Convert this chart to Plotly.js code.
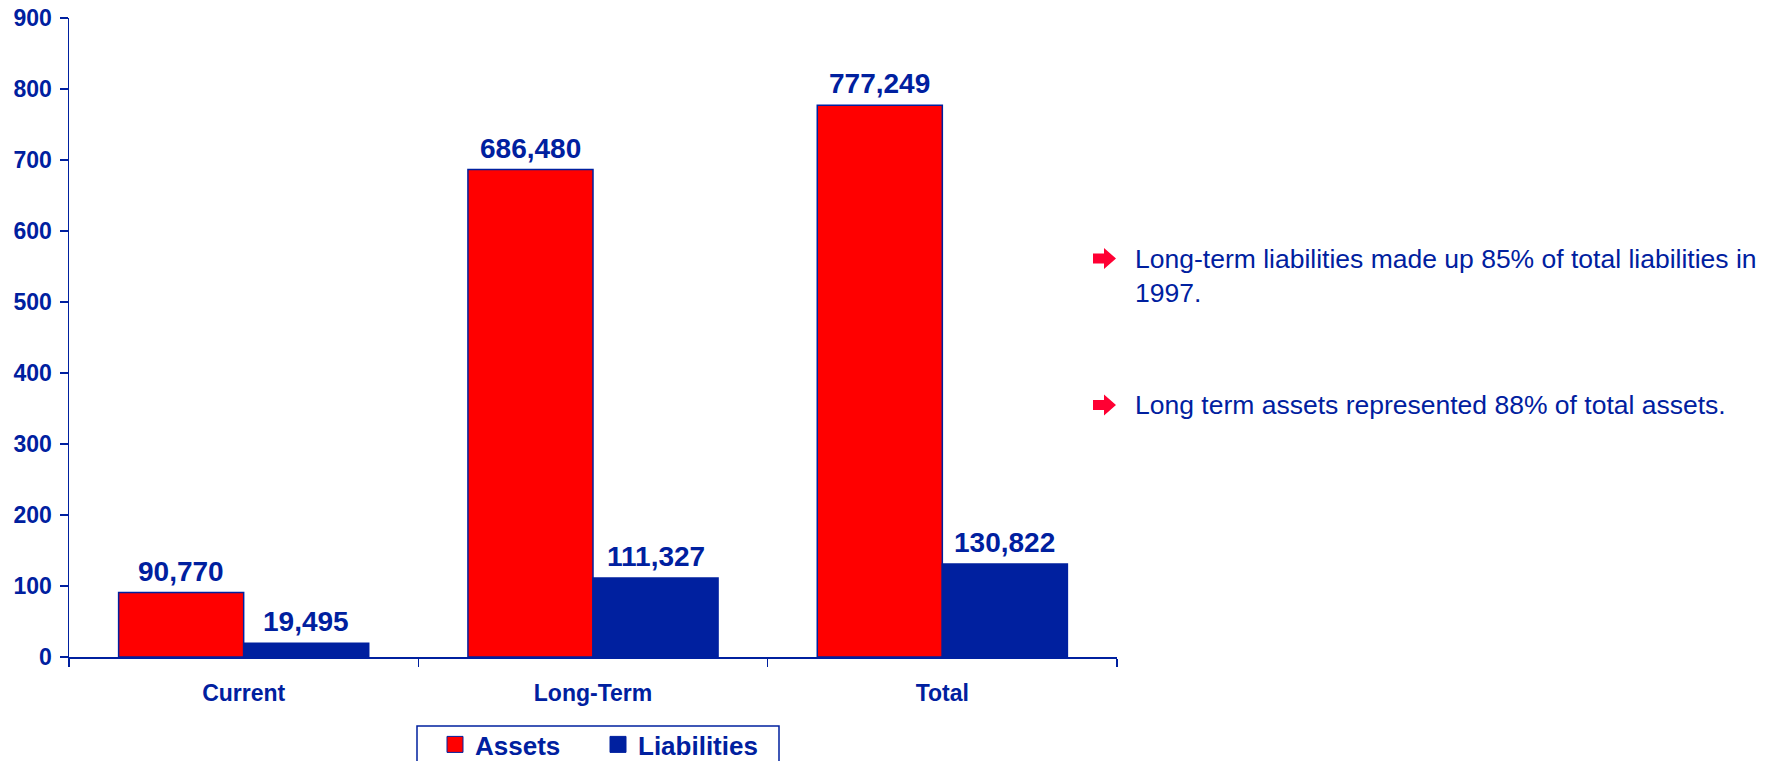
<!DOCTYPE html>
<html>
<head>
<meta charset="utf-8">
<script src="https://cdn.plot.ly/plotly-3.0.1.min.js"></script>
<style>html,body{margin:0;padding:0;background:#fff;}#chart{width:1772px;height:761px;}</style>
</head>
<body>
<div id="chart"></div>
<script>
const categories = ["Current", "Long-Term", "Total"];
const assets = [90.770, 686.480, 777.249];
const liabilities = [19.495, 111.327, 130.822];
const assetLabels = ["90,770", "686,480", "777,249"];
const liabilityLabels = ["19,495", "111,327", "130,822"];
const yTicks = [0, 100, 200, 300, 400, 500, 600, 700, 800, 900];
const seriesNames = ["Assets", "Liabilities"];
const bullets = [
  "Long-term liabilities made up 85% of total liabilities in<br>1997.",
  "Long term assets represented 88% of total assets."
];

const BLUE = "#00209F";
const RED = "#FF0000";
const ARROW_RED = "#FF0033";
const FONT = "Liberation Sans, Arial, sans-serif";

const traces = [
  {type: "bar", name: seriesNames[0], x: categories, y: assets, showlegend: false,
   marker: {color: RED, line: {color: BLUE, width: 1.5}}},
  {type: "bar", name: seriesNames[1], x: categories, y: liabilities, showlegend: false,
   marker: {color: BLUE, line: {color: BLUE, width: 1.5}}},
  {type: "scatter", mode: "markers", name: seriesNames[0], x: [null], y: [null], showlegend: true,
   marker: {symbol: "square", size: 16, color: RED, line: {color: BLUE, width: 1}}},
  {type: "scatter", mode: "markers", name: seriesNames[1], x: [null], y: [null], showlegend: true,
   marker: {symbol: "square", size: 16, color: BLUE, line: {color: BLUE, width: 1}}}
];

const W = 1772, H = 761, ml = 69, mr = 655, mt = 18, mb = 104;
const plotW = W - ml - mr, plotH = H - mt - mb;
const px2x = p => (p - ml) / plotW;
const px2y = p => 1 - (p - mt) / plotH;
const catPx = plotW / categories.length;
const bargap = 0.284;
const barPx = catPx * (1 - bargap) / 2;

const annotations = [];
categories.forEach((c, i) => {
  annotations.push({x: c, y: assets[i], xref: "x", yref: "y", text: "<b>" + assetLabels[i] + "</b>",
    showarrow: false, xshift: -barPx / 2, yanchor: "bottom", yshift: 4,
    font: {family: FONT, size: 28, color: BLUE}});
  annotations.push({x: c, y: liabilities[i], xref: "x", yref: "y", text: "<b>" + liabilityLabels[i] + "</b>",
    showarrow: false, xshift: barPx / 2, yanchor: "bottom", yshift: 4,
    font: {family: FONT, size: 28, color: BLUE}});
});

const bulletY = [258.5, 405];
const shapes = [];
bullets.forEach((t, i) => {
  shapes.push({type: "path", xref: "paper", yref: "paper", xsizemode: "pixel", ysizemode: "pixel",
    xanchor: px2x(1093), yanchor: px2y(bulletY[i]),
    path: "M0,-5 L11,-5 L11,-10.5 L23,0 L11,10.5 L11,5 L0,5 Z",
    fillcolor: ARROW_RED, line: {width: 0}});
  annotations.push({xref: "paper", yref: "paper", x: px2x(1133), y: px2y(bulletY[i] - 17),
    xanchor: "left", yanchor: "top", align: "left", text: t, showarrow: false,
    font: {family: FONT, size: 26.5, color: BLUE}});
});

// legend frame
shapes.push({type: "rect", xref: "paper", yref: "paper",
  x0: px2x(417), x1: px2x(779), y0: px2y(726), y1: px2y(790),
  line: {color: BLUE, width: 1.5}, fillcolor: "rgba(0,0,0,0)"});

const layout = {
  width: W, height: H,
  margin: {l: ml, r: mr, t: mt, b: mb},
  paper_bgcolor: "#fff", plot_bgcolor: "#fff",
  barmode: "group", bargap: bargap, bargroupgap: 0,
  showlegend: true,
  legend: {orientation: "h", xref: "container", yref: "container", x: 435 / W, y: (H - 721) / H,
    xanchor: "left", yanchor: "top", borderwidth: 0, bgcolor: "rgba(0,0,0,0)",
    font: {family: FONT, size: 26, color: BLUE, weight: "bold"}, entrywidth: 118},
  xaxis: {showline: true, linecolor: BLUE, linewidth: 1.5, ticks: "outside", tickson: "boundaries",
    ticklen: 8, tickcolor: BLUE, tickwidth: 1.5, ticklabelstandoff: 15,
    tickfont: {family: FONT, size: 23, color: BLUE, weight: "bold"}, showgrid: false, zeroline: false, fixedrange: true},
  yaxis: {range: [0, 900], tickvals: yTicks, ticktext: yTicks.map(String), showline: true, linecolor: BLUE, linewidth: 1.5,
    ticks: "outside", ticklen: 8, tickcolor: BLUE, tickwidth: 1.5, ticklabelstandoff: 3,
    tickfont: {family: FONT, size: 23, color: BLUE, weight: "bold"}, showgrid: false, zeroline: false, fixedrange: true},
  annotations: annotations,
  shapes: shapes
};

Plotly.newPlot("chart", traces, layout, {displayModeBar: false, staticPlot: true});
</script>
</body>
</html>
